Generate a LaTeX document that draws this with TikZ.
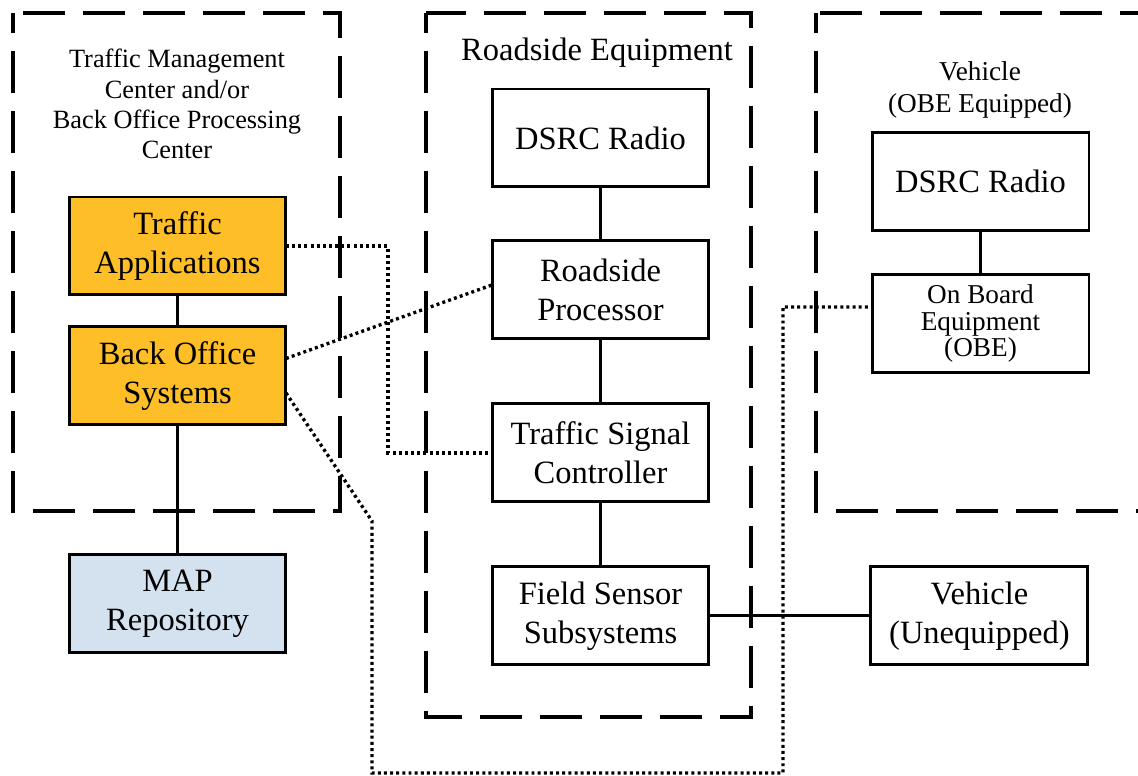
\documentclass[tikz,border=0pt]{standalone}
\usepackage{fontspec}
\setmainfont{Liberation Serif}
\usetikzlibrary{positioning}
\definecolor{appsorange}{RGB}{253,190,40}
\definecolor{mapblue}{RGB}{211,226,238}

\begin{document}
\begin{tikzpicture}[
    x=0.02cm, y=-0.02cm,
    node distance=0.6cm,
    unit/.style={draw=black, line width=1.7pt, align=center, minimum width=4.34cm, minimum height=1.96cm, inner sep=2pt, outer sep=0pt, font=\fontsize{18.5}{22}\selectfont},
    app/.style={unit, fill=appsorange},
    repo/.style={unit, fill=mapblue},
    group/.style={line width=2.8pt, dash pattern=on 0.84cm off 0.36cm, dash phase=0.44cm},
    title/.style={align=center, inner sep=0pt},
    wire/.style={line width=1.7pt},
    radio/.style={line width=1.9pt, dash pattern=on 1.7pt off 1.8pt},
]
    \clip (0,0) rectangle (1138,776);

    % Groups
    \draw[group] (13,13) rectangle (340,511);
    \draw[group] (426,13) rectangle (751,717);
    \draw[group] (816,13) rectangle (1170,511);

    \node[title, font=\fontsize{15}{17.2}\selectfont] (tmc) at (177,104) {Traffic Management\\Center and/or\\Back Office Processing\\Center};
    \node[title, font=\fontsize{18.5}{22}\selectfont] (rse) at (597,53) {Roadside Equipment};
    \node[title, font=\fontsize{15.5}{18.7}\selectfont] (veh) at (980,90) {Vehicle\\(OBE Equipped)};

    % Back office column
    \node[app] (apps) at (177.5,246) {Traffic\\Applications};
    \node[app, below=0.64cm of apps] (bos) {Back Office\\Systems};
    \node[repo, below=2.6cm of bos] (map) {MAP\\Repository};

    % Roadside column
    \node[unit] (rsradio) at (600.5,138) {DSRC Radio};
    \node[unit, below=1.08cm of rsradio] (rsp) {Roadside\\Processor};
    \node[unit, below=1.3cm of rsp] (tsc) {Traffic Signal\\Controller};
    \node[unit, below=1.3cm of tsc] (fss) {Field Sensor\\Subsystems};

    % Vehicles
    \node[unit] (vradio) at (980.5,181.5) {DSRC Radio};
    \node[unit, below=0.88cm of vradio, font=\fontsize{15.5}{15}\selectfont] (obe) {On Board\\Equipment\\(OBE)};
    \node[unit, right=3.24cm of fss] (unequip) {Vehicle\\(Unequipped)};

    % Wired links
    \draw[wire] (apps) -- (bos);
    \draw[wire] (bos) -- (map);
    \draw[wire] (rsradio) -- (rsp);
    \draw[wire] (rsp) -- (tsc);
    \draw[wire] (tsc) -- (fss);
    \draw[wire] (vradio) -- (obe);
    \draw[wire] (fss) -- (unequip);

    % Other links
    \draw[radio] (apps.east) -- ++(102,0) |- (tsc.west);
    \draw[radio] ([yshift=0.35cm]bos.east) -- ([yshift=0.1cm]rsp.west);
    \draw[radio] ([yshift=-0.34cm]bos.east) -- (372,521) |- (783,773) |- ([yshift=0.33cm]obe.west);
\end{tikzpicture}
\end{document}
